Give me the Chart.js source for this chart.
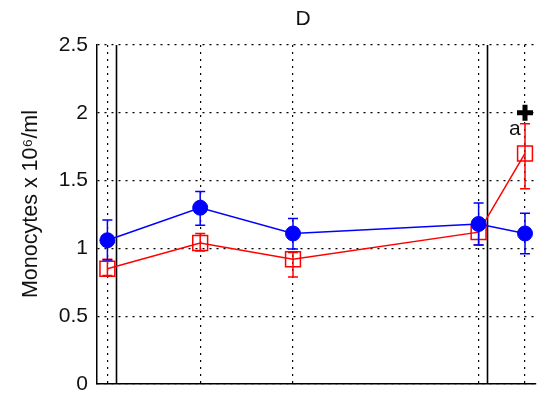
<!DOCTYPE html>
<html>
<head>
<meta charset="utf-8">
<script src="https://cdn.jsdelivr.net/npm/chart.js@4"></script>
<style>body{margin:0;background:#fff}</style>
</head>
<body>
<canvas id="chart" width="545" height="398"></canvas>
<script>
// time points (no x labels shown in the figure)
const timePoints = [0, 2, 4, 8, 9];

const blueMean  = [1.06, 1.30, 1.11, 1.18, 1.11];
const blueUpper = [1.21, 1.42, 1.22, 1.335, 1.26];
const blueLower = [0.915, 1.17, 0.995, 1.025, 0.96];

const redMean  = [0.85, 1.04, 0.92, 1.12, 1.70];
const redUpper = [0.92, 1.11, 0.97, 1.20, 1.92];
const redLower = [0.80, 0.98, 0.79, 1.025, 1.44];

const yTicks = [0, 0.5, 1, 1.5, 2, 2.5];
const markerLines = [0.185, 8.18];
const sigX = [9];
const sigY = [2.0];
const sigLabel = ['a'];
const sigLabelPos = [8.78, 1.88];

const errors = {
  blue: {upper: blueUpper, lower: blueLower},
  red: {upper: redUpper, lower: redLower}
};

function points(xs, ys) {
  return xs.map((x, i) => ({x: x, y: ys[i]}));
}

// error bars drawn just before each series so the markers sit on top
const errorBars = {
  id: 'errorBars',
  beforeDatasetDraw(chart, args) {
    const ds = chart.data.datasets[args.index];
    const err = errors[ds.label];
    if (!err) return;
    const xs = chart.scales.x, ys = chart.scales.y, ctx = chart.ctx;
    ctx.save();
    ctx.strokeStyle = ds.borderColor;
    ctx.lineWidth = 1.5;
    ds.data.forEach((p, i) => {
      const x = xs.getPixelForValue(p.x);
      const top = ys.getPixelForValue(err.upper[i]);
      const bot = ys.getPixelForValue(err.lower[i]);
      ctx.beginPath();
      ctx.moveTo(x, top); ctx.lineTo(x, bot);
      ctx.moveTo(x - 5, top); ctx.lineTo(x + 5, top);
      ctx.moveTo(x - 5, bot); ctx.lineTo(x + 5, bot);
      ctx.stroke();
    });
    ctx.restore();
  }
};

// solid vertical lines + texts
const extras = {
  id: 'extras',
  beforeDatasetsDraw(chart) {
    const {ctx, chartArea, scales} = chart;
    ctx.save();
    ctx.strokeStyle = '#000';
    ctx.lineWidth = 1.6;
    markerLines.forEach(v => {
      const x = Math.round(scales.x.getPixelForValue(v)) + 0.5;
      ctx.beginPath();
      ctx.moveTo(x, chartArea.top);
      ctx.lineTo(x, chartArea.bottom);
      ctx.stroke();
    });
    ctx.restore();
  },
  afterDraw(chart) {
    const {ctx, scales} = chart;
    ctx.save();
    ctx.fillStyle = '#111';
    ctx.textAlign = 'center';
    ctx.textBaseline = 'middle';
    ctx.font = '21px "Liberation Sans", Arial, sans-serif';
    ctx.fillText('D', 303, 19);
    ctx.fillText(sigLabel[0], scales.x.getPixelForValue(sigLabelPos[0]), scales.y.getPixelForValue(sigLabelPos[1]));
    ctx.translate(31, 204);
    ctx.rotate(-Math.PI / 2);
    ctx.font = '21.5px "Liberation Sans", Arial, sans-serif';
    ctx.fillText('Monocytes x 10\u2076/ml', 0, 0);
    ctx.restore();
  }
};

new Chart(document.getElementById('chart'), {
  type: 'line',
  data: {
    datasets: [
      {
        label: 'sig',
        data: points(sigX, sigY),
        showLine: false,
        pointStyle: 'cross',
        pointRadius: 8,
        pointBorderWidth: 5,
        borderColor: '#000',
        backgroundColor: '#000',
        clip: false
      },
      {
        label: 'blue',
        data: points(timePoints, blueMean),
        borderColor: 'rgb(0,0,255)',
        backgroundColor: 'rgb(0,0,255)',
        borderWidth: 1.5,
        pointStyle: 'circle',
        pointRadius: 7.5,
        pointBorderWidth: 1,
        tension: 0,
        clip: false
      },
      {
        label: 'red',
        data: points(timePoints, redMean),
        borderColor: 'rgb(255,0,0)',
        backgroundColor: 'rgba(0,0,0,0)',
        borderWidth: 1.5,
        pointStyle: 'rect',
        pointRadius: 10.5,
        pointBorderWidth: 1.5,
        tension: 0,
        clip: false
      }
    ]
  },
  options: {
    responsive: false,
    animation: false,
    devicePixelRatio: 1,
    layout: {autoPadding: false, padding: {left: 0, right: 9, top: 45, bottom: 14}},
    plugins: {legend: {display: false}, tooltip: {enabled: false}, title: {display: false}},
    scales: {
      x: {
        type: 'linear',
        min: -0.224,
        max: 9.237,
        afterBuildTicks: s => { s.ticks = timePoints.map(v => ({value: v})); },
        afterFit: s => { s.height = 0; },
        ticks: {display: false},
        grid: {color: '#000', lineWidth: 1.2, drawTicks: false},
        border: {display: true, color: '#000', width: 1.5, dash: [2, 5]}
      },
      y: {
        min: 0,
        max: 2.5,
        afterBuildTicks: s => { s.ticks = yTicks.map(v => ({value: v})); },
        afterFit: s => {
          s.width = 97;
          s.paddingTop = 0;
          s.paddingBottom = 0;
        },
        ticks: {
          color: '#111',
          padding: 9,
          callback: v => String(v),
          font: {family: '"Liberation Sans", Arial, sans-serif', size: 21}
        },
        grid: {color: '#000', lineWidth: 1.2, drawTicks: false},
        border: {display: true, color: '#000', width: 1.5, dash: [2, 5]}
      }
    }
  },
  plugins: [errorBars, extras]
});
</script>
</body>
</html>
